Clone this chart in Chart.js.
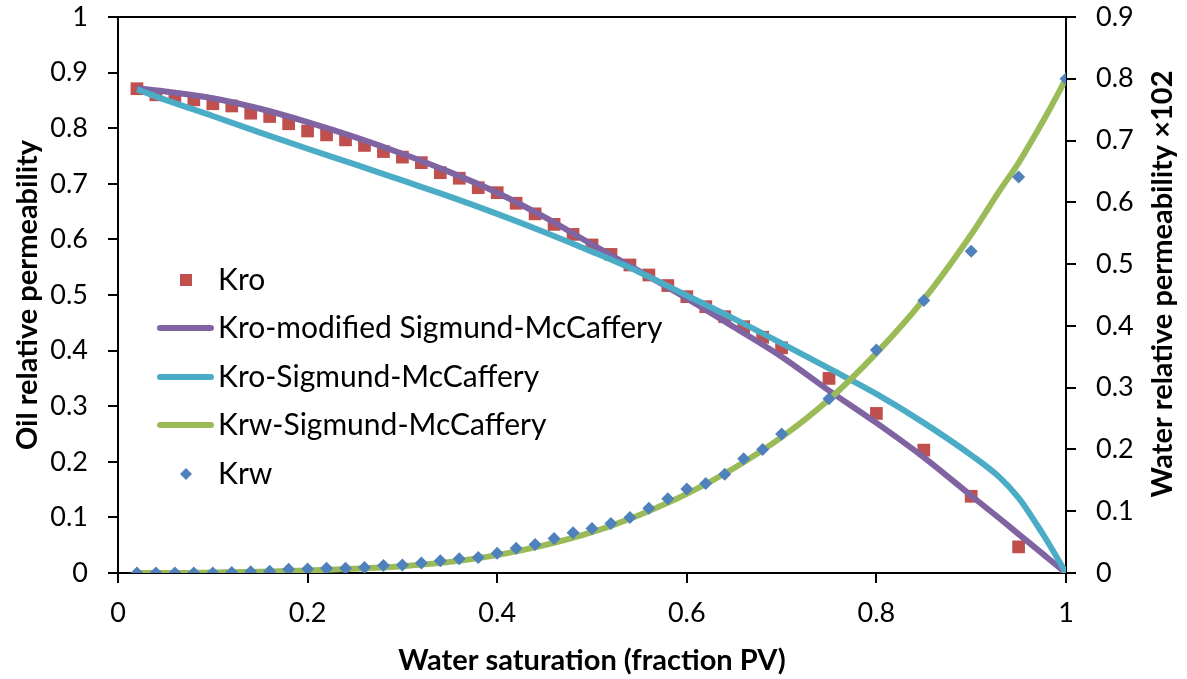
<!DOCTYPE html>
<html>
<head>
<meta charset="utf-8">
<title>Relative permeability</title>
<script src="https://cdn.jsdelivr.net/npm/chart.js@4.4.1/dist/chart.umd.min.js"></script>
<style>
  html, body { margin: 0; padding: 0; background: #fff; }
  canvas { display: block; }
</style>
</head>
<body>
<canvas id="kChart" width="1187" height="679"></canvas>
<script>
// measured oil relative permeability (left axis)
const swKro = [0.02, 0.04, 0.06, 0.08, 0.10, 0.12, 0.14, 0.16, 0.18, 0.20,
               0.22, 0.24, 0.26, 0.28, 0.30, 0.32, 0.34, 0.36, 0.38, 0.40,
               0.42, 0.44, 0.46, 0.48, 0.50, 0.52, 0.54, 0.56, 0.58, 0.60,
               0.62, 0.64, 0.66, 0.68, 0.70, 0.75, 0.80, 0.85, 0.90, 0.95, 1.00];
const kro = [0.871, 0.860, 0.856, 0.851, 0.844, 0.840, 0.827, 0.821, 0.808, 0.795,
             0.788, 0.779, 0.769, 0.758, 0.748, 0.738, 0.720, 0.710, 0.693, 0.684,
             0.665, 0.646, 0.627, 0.609, 0.590, 0.573, 0.554, 0.536, 0.517, 0.497,
             0.479, 0.461, 0.443, 0.424, 0.405, 0.350, 0.287, 0.221, 0.138, 0.047, 0.000];

// measured water relative permeability (right axis)
const swKrw = swKro;
const krw = [0.000, 0.000, 0.000, 0.000, 0.000, 0.001, 0.002, 0.003, 0.006, 0.0065,
             0.0075, 0.0075, 0.009, 0.012, 0.013, 0.016, 0.020, 0.023, 0.025, 0.032,
             0.040, 0.046, 0.056, 0.065, 0.072, 0.080, 0.090, 0.105, 0.120, 0.136,
             0.145, 0.160, 0.185, 0.200, 0.225, 0.282, 0.361, 0.441, 0.521, 0.641, 0.800];

// model curves
const swModel = [0.02, 0.05, 0.10, 0.15, 0.20, 0.25, 0.30, 0.35, 0.40, 0.45, 0.50, 0.55,
                 0.60, 0.65, 0.70, 0.75, 0.80, 0.85, 0.90, 0.93, 0.95, 0.97, 0.98, 1.00];
const kroModified = [0.872, 0.866, 0.854, 0.835, 0.811, 0.784, 0.754, 0.721, 0.684, 0.640, 0.591, 0.543,
                     0.494, 0.442, 0.389, 0.328, 0.270, 0.208, 0.139, 0.098, 0.070, 0.042, 0.028, 0.000];
const kroSM = [0.870, 0.851, 0.822, 0.792, 0.763, 0.735, 0.706, 0.677, 0.646, 0.613, 0.578, 0.541,
               0.499, 0.457, 0.413, 0.368, 0.322, 0.270, 0.212, 0.172, 0.135, 0.085, 0.058, 0.000];
const krwSM = [0.000, 0.000, 0.001, 0.002, 0.004, 0.007, 0.011, 0.018, 0.029, 0.045, 0.066, 0.094,
               0.128, 0.170, 0.220, 0.281, 0.356, 0.443, 0.548, 0.619, 0.664, 0.716, 0.743, 0.800];

const FONT = 'Lato';
const RED = '#C0504D';
const PURPLE = '#8064A2';
const CYAN = '#4BACC6';
const GREEN = '#9BBB59';
const BLUE = '#4F81BD';

function pairs(xs, ys) {
    return xs.map((x, i) => ({ x: x, y: ys[i] }));
}

// "1" instead of "1.0", "0" instead of "0.0"
function tickText(v) {
    return String(Number(v.toFixed(1)));
}

function axisStyle(extra) {
    return Object.assign({
        type: 'linear',
        border: { display: true, color: '#000', width: 2 },
        grid: { drawOnChartArea: false, drawTicks: true, tickLength: 10, color: '#000', lineWidth: 2 }
    }, extra);
}

function tickStyle(step, pad) {
    return {
        color: '#000',
        font: { family: FONT, size: 27 },
        stepSize: step,
        padding: pad,
        autoSkip: false,
        maxRotation: 0,
        callback: tickText
    };
}

// fixed box sizes so the plot area sits at 118..1066 x 17..573
function fitVertical(width) {
    return s => {
        s.width = width;
        s.paddingTop = 17;
        s.paddingBottom = 0;
    };
}

// top frame line, legend inside the plot and the rotated right-hand title
const extras = {
    id: 'extras',
    afterDraw(chart) {
        const ctx = chart.ctx;
        const area = chart.chartArea;
        ctx.save();

        ctx.strokeStyle = '#000';
        ctx.lineWidth = 2;
        ctx.beginPath();
        ctx.moveTo(area.left, area.top);
        ctx.lineTo(area.right, area.top);
        ctx.stroke();

        const rows = [280, 328, 377, 425, 474];
        ctx.font = '30px ' + FONT;
        ctx.textBaseline = 'middle';
        chart.data.datasets.forEach((ds, i) => {
            const y = rows[i];
            if (ds.showLine) {
                ctx.strokeStyle = ds.borderColor;
                ctx.lineWidth = 6;
                ctx.lineCap = 'round';
                ctx.beginPath();
                ctx.moveTo(160, y);
                ctx.lineTo(211, y);
                ctx.stroke();
            } else if (ds.pointStyle === 'rect') {
                ctx.fillStyle = ds.backgroundColor;
                ctx.fillRect(180, y - 6, 12, 12);
            } else {
                ctx.fillStyle = ds.backgroundColor;
                ctx.beginPath();
                ctx.moveTo(186, y - 6);
                ctx.lineTo(192, y);
                ctx.lineTo(186, y + 6);
                ctx.lineTo(180, y);
                ctx.closePath();
                ctx.fill();
            }
            ctx.fillStyle = '#000';
            ctx.fillText(ds.label, 218, y);
        });

        ctx.font = 'bold 29px ' + FONT;
        ctx.textAlign = 'center';
        ctx.textBaseline = 'middle';
        ctx.translate(1163, 284);
        ctx.rotate(-Math.PI / 2);
        ctx.fillText('Water relative permeability \u00d7102', 0, 0);
        ctx.restore();
    }
};

new Chart(document.getElementById('kChart'), {
    type: 'scatter',
    data: {
        datasets: [
            {
                label: 'Kro',
                data: pairs(swKro, kro),
                yAxisID: 'y',
                pointStyle: 'rect',
                pointRadius: 9,
                backgroundColor: RED,
                borderWidth: 0,
                order: 5
            },
            {
                label: 'Kro-modified Sigmund-McCaffery',
                data: pairs(swModel, kroModified),
                yAxisID: 'y',
                showLine: true,
                borderColor: PURPLE,
                borderWidth: 6,
                pointRadius: 0,
                cubicInterpolationMode: 'monotone',
                order: 4
            },
            {
                label: 'Kro-Sigmund-McCaffery',
                data: pairs(swModel, kroSM),
                yAxisID: 'y',
                showLine: true,
                borderColor: CYAN,
                borderWidth: 6,
                pointRadius: 0,
                cubicInterpolationMode: 'monotone',
                order: 3
            },
            {
                label: 'Krw-Sigmund-McCaffery',
                data: pairs(swModel, krwSM),
                yAxisID: 'y2',
                showLine: true,
                borderColor: GREEN,
                borderWidth: 6,
                pointRadius: 0,
                cubicInterpolationMode: 'monotone',
                order: 2
            },
            {
                label: 'Krw',
                data: pairs(swKrw, krw),
                yAxisID: 'y2',
                pointStyle: 'rectRot',
                pointRadius: 6.5,
                backgroundColor: BLUE,
                borderWidth: 0,
                order: 1
            }
        ]
    },
    options: {
        responsive: false,
        animation: false,
        layout: { padding: 0 },
        plugins: {
            legend: { display: false },
            tooltip: { enabled: false }
        },
        scales: {
            x: axisStyle({
                position: 'bottom',
                min: 0,
                max: 1,
                ticks: tickStyle(0.2, 14),
                title: {
                    display: true,
                    text: 'Water saturation (fraction PV)',
                    color: '#000',
                    font: { family: FONT, size: 29, weight: 'bold' },
                    padding: { top: 0, bottom: 1 }
                },
                afterFit: s => { s.height = 106; }
            }),
            y: axisStyle({
                position: 'left',
                min: 0,
                max: 1,
                ticks: tickStyle(0.1, 20),
                title: {
                    display: true,
                    text: 'Oil relative permeability',
                    color: '#000',
                    font: { family: FONT, size: 29, weight: 'bold' },
                    padding: { top: 10, bottom: 0 }
                },
                afterFit: fitVertical(118)
            }),
            y2: axisStyle({
                position: 'right',
                min: 0,
                max: 0.9,
                ticks: tickStyle(0.1, 20),
                afterFit: fitVertical(121)
            })
        }
    },
    plugins: [extras]
});
</script>
</body>
</html>
